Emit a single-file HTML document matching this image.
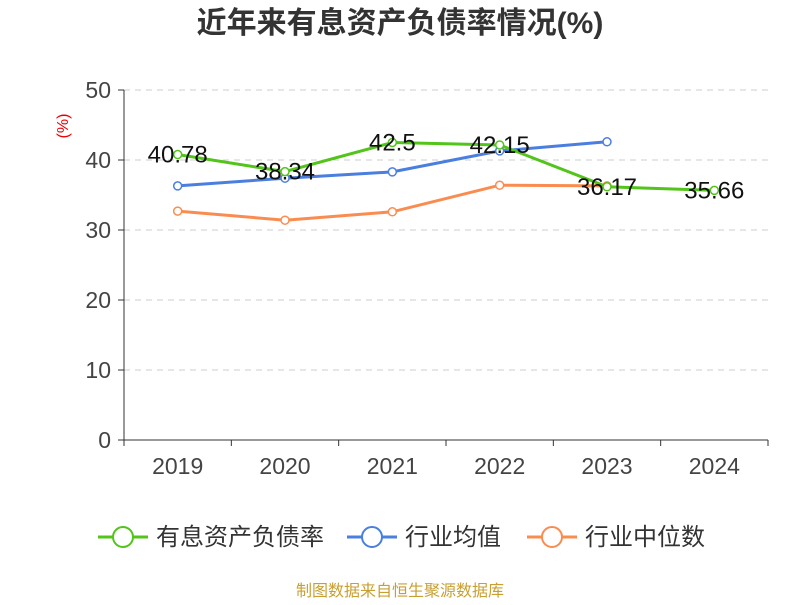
<!DOCTYPE html>
<html><head><meta charset="utf-8"><style>
body{margin:0;background:#fff;font-family:"Liberation Sans","Noto Sans CJK SC",sans-serif}
</style></head><body>
<svg width="800" height="600" xmlns="http://www.w3.org/2000/svg" font-family="Liberation Sans, Noto Sans CJK SC, sans-serif">
<text x="400" y="33" text-anchor="middle" font-size="30" font-weight="bold" fill="#333">近年来有息资产负债率情况(%)</text>
<text x="68" y="126" transform="rotate(-90 68 126)" text-anchor="middle" font-size="16" fill="#e00">(%)</text>
<g id="grid"></g><g id="axes"></g><g id="series"></g><g id="legend"></g>
<text x="400" y="596" text-anchor="middle" font-size="16" fill="#c8a032">制图数据来自恒生聚源数据库</text>
</svg>
<script>
const categories=["2019","2020","2021","2022","2023","2024"];
const debtRatio=[40.78,38.34,42.5,42.15,36.17,35.66];
const industryAvg=[36.3,37.4,38.3,41.3,42.6,null];
const industryMedian=[32.7,31.4,32.6,36.4,36.3,null];
const yTicks=[0,10,20,30,40,50];
const NS="http://www.w3.org/2000/svg";
const x0=124,x1=768,y0=440,y1=90;
const bw=(x1-x0)/categories.length;
const xs=i=>x0+bw*(i+0.5);
const ys=v=>y0-(v/50)*(y0-y1);
function mk(p,t,a){const e=document.createElementNS(NS,t);for(const k in a)e.setAttribute(k,a[k]);p.appendChild(e);return e;}
const grid=document.getElementById('grid'),axes=document.getElementById('axes'),ser=document.getElementById('series'),leg=document.getElementById('legend');
yTicks.forEach(v=>{
 if(v>0){const l=mk(grid,'line',{x1:x0,x2:x1,y1:ys(v),y2:ys(v),stroke:'#ccc','stroke-dasharray':'6,5'});
 
 }
 const tk=mk(axes,'line',{x1:x0-6,x2:x0,y1:ys(v),y2:ys(v),stroke:'#333'});
 
 
 const t=mk(axes,'text',{x:x0-13,y:ys(v)+8,'text-anchor':'end','font-size':23,fill:'#444'});t.textContent=v;
 
 
});
const ya=mk(axes,'line',{x1:x0,x2:x0,y1:y1,y2:y0,stroke:'#333'});


const xa=mk(axes,'line',{x1:x0,x2:x1,y1:y0,y2:y0,stroke:'#333'});


for(let i=0;i<=categories.length;i++){const tk=mk(axes,'line',{x1:x0+bw*i,x2:x0+bw*i,y1:y0,y2:y0+6,stroke:'#333'});
 
 }
categories.forEach((c,i)=>{const t=mk(axes,'text',{x:xs(i),y:474,'text-anchor':'middle','font-size':23,fill:'#444'});t.textContent=c;
 
 });
function series(data,color,name,labels){
 const pts=[];data.forEach((v,i)=>{if(v!=null)pts.push([xs(i),ys(v),v]);});
 const pl=mk(ser,'polyline',{points:pts.map(p=>p[0]+','+p[1]).join(' '),fill:'none',stroke:color,'stroke-width':3});
 
 
 pts.forEach(p=>{const c=mk(ser,'circle',{cx:p[0],cy:p[1],r:4,fill:'#fff',stroke:color,'stroke-width':1.5});
  
  
  if(labels){const t=mk(ser,'text',{x:p[0],y:p[1]+8,'text-anchor':'middle','font-size':24,fill:'#111'});t.textContent=p[2];
   
   }});
}
series(industryMedian,'#fa8c50','industry-median',false);
series(industryAvg,'#4a7fdf','industry-average',false);
series(debtRatio,'#52c41a','debt-ratio',true);
[["有息资产负债率",'#52c41a',98],["行业均值",'#4a7fdf',347],["行业中位数",'#fa8c50',527]].forEach(([n,c,x])=>{
 const g=mk(leg,'g',{});
 
 
 mk(g,'line',{x1:x,x2:x+50,y1:537,y2:537,stroke:c,'stroke-width':3});
 mk(g,'circle',{cx:x+25,cy:537,r:10,fill:'#fff',stroke:c,'stroke-width':2});
 const t=mk(g,'text',{x:x+58,y:545,'font-size':24,fill:'#333'});t.textContent=n;
});
</script>
</body></html>
